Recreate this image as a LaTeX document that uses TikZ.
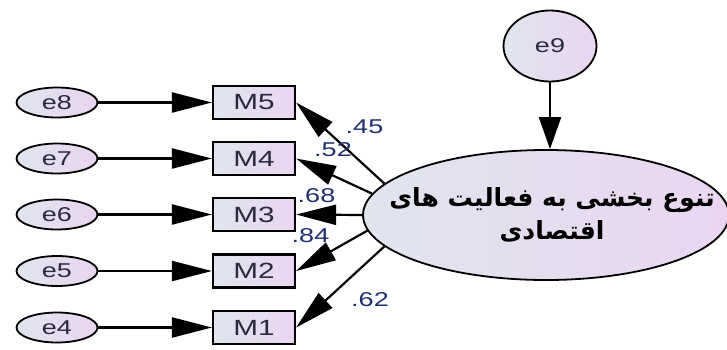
\documentclass[tikz,border=0pt]{standalone}
\usepackage{fontspec}
\setmainfont{Liberation Sans}[FakeStretch=1.35]
\newfontfamily\arabicfont[Script=Arabic]{DejaVu Sans}
\TeXXeTstate=1
\usetikzlibrary{arrows.meta,shapes.geometric}
\definecolor{gL}{HTML}{E0E5EE}
\definecolor{gR}{HTML}{EAD5F1}
\definecolor{nodetext}{HTML}{2A2A3C}
\definecolor{labtext}{HTML}{1E2E6E}
\tikzset{
  errnode/.style={ellipse, draw, line width=1.8pt, minimum width=81pt, minimum height=30pt,
    inner sep=0pt, left color=gL, right color=gR, text=nodetext, font=\fontsize{20}{20}\selectfont},
  obsbox/.style={rectangle, draw, line width=2.2pt, minimum width=82pt, minimum height=33pt,
    inner sep=0pt, left color=gL, right color=gR, text=nodetext, font=\fontsize{22}{22}\selectfont},
  latent/.style={ellipse, draw, line width=1.8pt, minimum width=366pt, minimum height=130pt,
    inner sep=0pt, left color=gL, right color=gR},
  harrow/.style={line width=2.2pt, -{Triangle[length=40pt,width=20pt]}},
  varrow/.style={line width=2.2pt, -{Triangle[length=32pt,width=22pt]}},
  lab/.style={text=labtext, font=\fontsize{20}{20}\selectfont, inner sep=0pt}
}
\begin{document}
\begin{tikzpicture}[x=1pt,y=-1pt]
\useasboundingbox (0,0) rectangle (727,349);
\clip (0,0) rectangle (727,349);

% latent variable and its error
\node[latent] (big) at (546,215) {};
\node[inner sep=0pt, align=center, font=\arabicfont\bfseries\fontsize{25}{33}\selectfont] (bigtext) at (552,215)
  {\beginR تنوع بخشی به فعالیت های\endR\\\beginR اقتصادی\endR};
\node[errnode, minimum width=93pt, minimum height=71pt] (e9) at (550,46) {e9};

% observed indicators
\node[obsbox] (M5) at (254,102.5) {M5};
\node[obsbox] (M4) at (254,158.5) {M4};
\node[obsbox] (M3) at (254,214.5) {M3};
\node[obsbox] (M2) at (254,271) {M2};
\node[obsbox] (M1) at (254,327.5) {M1};

% error terms
\node[errnode] (e8) at (57,102.5) {e8};
\node[errnode] (e7) at (57,158.5) {e7};
\node[errnode] (e6) at (57,214.5) {e6};
\node[errnode] (e5) at (57,271) {e5};
\node[errnode] (e4) at (57,327.5) {e4};

% error arrows
\draw[harrow] (e8) -- (M5);
\draw[harrow] (e7) -- (M4);
\draw[harrow] (e6) -- (M3);
\draw[harrow] (e5) -- (M2);
\draw[harrow] (e4) -- (M1);
\draw[varrow] (e9.south) -- (e9.south |- big.north);

% loadings
\draw[harrow] (big.169.6) -- (M5.east);
\draw[harrow] (big.173.8) -- (M4.east);
\draw[harrow] (big.180) -- (M3.east);
\draw[harrow] (big.185.8) -- (M2.east);
\draw[harrow] (big.191) -- (M1.east);

% loading labels
\node[lab] (l45) at (364.5,127) {.45};
\node[lab] (l52) at (333,149.5) {.52};
\node[lab] (l68) at (316.5,195.5) {.68};
\node[lab] (l84) at (310.5,235.5) {.84};
\node[lab] (l62) at (370,299.5) {.62};
\end{tikzpicture}
\end{document}
